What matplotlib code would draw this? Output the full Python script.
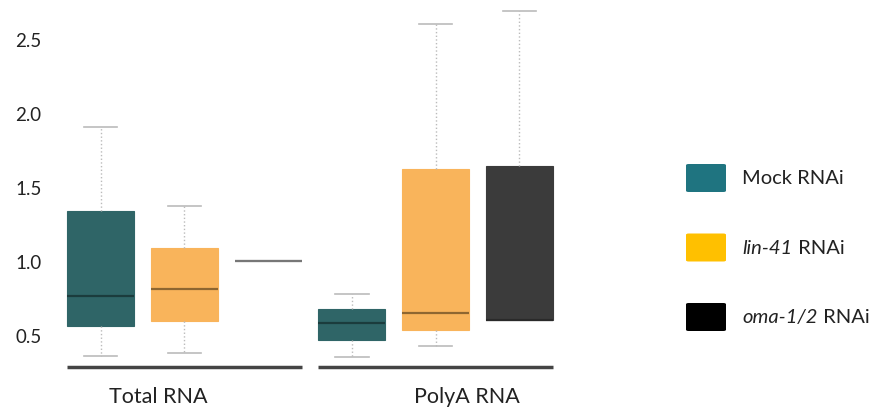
import numpy as np
import matplotlib
matplotlib.use('Agg')
import matplotlib.pyplot as plt
from matplotlib.patches import FancyBboxPatch

plt.rcParams['font.family'] = ['Lato', 'DejaVu Sans']

groups = ['Total RNA', 'PolyA RNA']
# legend labels: (italic part, upright part)
conditions = [('', 'Mock RNAi'), ('lin-41', ' RNAi'), ('oma-1/2', ' RNAi')]

# box stats per condition, [Total RNA, PolyA RNA]
whislo = {'mock': [0.36, 0.353], 'lin41': [0.378, 0.424], 'oma': [1.0, 0.603]}
q1 = {'mock': [0.563, 0.466], 'lin41': [0.593, 0.536], 'oma': [1.0, 0.603]}
med = {'mock': [0.766, 0.581], 'lin41': [0.81, 0.649], 'oma': [1.0, 0.603]}
q3 = {'mock': [1.34, 0.676], 'lin41': [1.09, 1.62], 'oma': [1.0, 1.644]}
whishi = {'mock': [1.905, 0.775], 'lin41': [1.374, 2.60], 'oma': [1.0, 2.69]}

box_colors = {'mock': '#2F6567', 'lin41': '#F9B45B', 'oma': '#3B3B3B'}
med_colors = {'mock': '#1B3C3D', 'lin41': '#8E6630', 'oma': '#2A2A2A'}
legend_colors = ['#1F7480', '#FFC000', '#000000']

fig = plt.figure(figsize=(8.92, 4.10), dpi=100)
ax = fig.add_axes([50 / 892, 30 / 410, 550 / 892, 380 / 410])

keys = ['mock', 'lin41', 'oma']
pos = 0
for g in range(len(groups)):
    for k in keys:
        st = [dict(whislo=whislo[k][g], q1=q1[k][g], med=med[k][g],
                   q3=q3[k][g], whishi=whishi[k][g], fliers=[])]
        flat = whislo[k][g] == whishi[k][g]
        ax.bxp(st, positions=[pos], widths=0.8, patch_artist=True,
               showcaps=not flat,
               boxprops=dict(facecolor=box_colors[k],
                             edgecolor='#777777' if flat else box_colors[k],
                             linewidth=1.5 if flat else 0.8),
               medianprops=dict(color='#777777' if flat else med_colors[k], linewidth=1.6),
               whiskerprops=dict(color='#BBBBBB', linewidth=1, linestyle=':'),
               capprops=dict(color='#BBBBBB', linewidth=1.2))
        pos += 1

# baselines under each group
ax.plot([-0.4, 2.4], [0.286, 0.286], color='#444444', lw=2.5, solid_capstyle='butt')
ax.plot([2.6, 5.4], [0.286, 0.286], color='#444444', lw=2.5, solid_capstyle='butt')

ax.text(0.69, 0.09, groups[0], ha='center', va='center', fontsize=15.5, color='#222222')
ax.text(4.37, 0.09, groups[1], ha='center', va='center', fontsize=15.5, color='#222222')

ax.set_xlim(-0.603, 5.961)
ax.set_ylim(0.203, 2.77)
ax.set_yticks([0.5, 1.0, 1.5, 2.0, 2.5])
ax.set_yticklabels(['0.5', '1.0', '1.5', '2.0', '2.5'])
ax.tick_params(axis='y', length=0, labelsize=13.5, labelcolor='#222222', pad=6)
ax.set_xticks([])
for s in ax.spines.values():
    s.set_visible(False)
ax.patch.set_alpha(0)

# legend drawn by hand so part of each label can be italic
renderer = fig.canvas.get_renderer()
W, H = 892.0, 410.0
for i, ((it_part, rm_part), c) in enumerate(zip(conditions, legend_colors)):
    yc = 179 + i * 69.5
    fig.patches.append(FancyBboxPatch((686 / W, (H - yc - 14) / H), 40 / W, 28 / H,
                                      boxstyle='round,pad=0,rounding_size=0.003',
                                      transform=fig.transFigure, facecolor=c,
                                      edgecolor='none'))
    x = 742 / W
    if it_part:
        t = fig.text(x, (H - yc) / H, it_part, style='italic', fontsize=14.5,
                     va='center', ha='left', color='#222222')
        x = t.get_window_extent(renderer).x1 / W + 1 / W
    fig.text(x, (H - yc) / H, rm_part, fontsize=14.5, va='center', ha='left',
             color='#222222')

fig.savefig('out.png', dpi=100)
